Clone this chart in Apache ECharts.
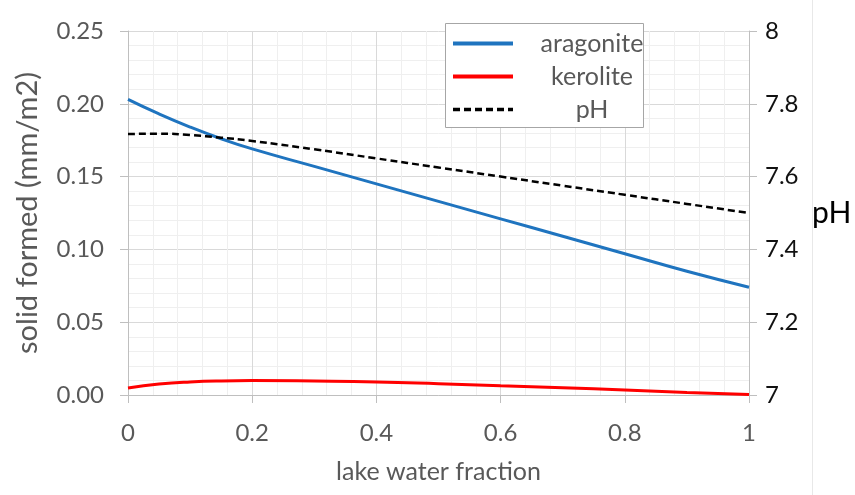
<!DOCTYPE html>
<html><head><meta charset="utf-8">
<script src="https://cdn.jsdelivr.net/npm/echarts@6/dist/echarts.min.js"></script>
<style>html,body{margin:0;padding:0;background:#fff}#c{width:855px;height:495px}</style>
</head><body><div id="c"></div>
<script>
const xTicks = [0, 0.2, 0.4, 0.6, 0.8, 1];
const fraction = [0, 0.05, 0.1, 0.15, 0.2, 0.3, 0.4, 0.5, 0.6, 0.7, 0.8, 0.9, 1];
const aragonite = [0.203, 0.193, 0.184, 0.176, 0.169, 0.157, 0.145, 0.133, 0.121, 0.109, 0.097, 0.085, 0.074];
const kerolite = [0.0048, 0.0075, 0.009, 0.0097, 0.0099, 0.0096, 0.009, 0.0078, 0.0064, 0.005, 0.0034, 0.0018, 0.0003];
const pH = [7.717, 7.718, 7.714, 7.707, 7.698, 7.675, 7.65, 7.625, 7.60, 7.575, 7.55, 7.525, 7.5];

const pair = (ys) => fraction.map((x, i) => [x, ys[i]]);
const FONT = 'Lato, "Open Sans", sans-serif';
const chart = echarts.init(document.getElementById('c'));
chart.setOption({
  animation: false,
  backgroundColor: '#fff',
  textStyle: { fontFamily: FONT },
  grid: { left: 128, right: 106, top: 31, bottom: 100, containLabel: false, outerBoundsMode: 'none' },
  legend: {
    orient: 'vertical', left: 445, top: 23, z: 6,
    padding: [8, 0, 7, 6], itemGap: 8, itemWidth: 60, itemHeight: 22,
    itemStyle: { opacity: 0 },
    formatter: n => '{t|' + n + '}',
    textStyle: { fontSize: 25, color: '#595959', fontFamily: FONT,
      rich: { t: { width: 104, align: 'center', padding: [0, 0, 0, 22], fontSize: 25, color: '#595959', fontFamily: FONT } } },
    data: [
      { name: 'aragonite', lineStyle: { width: 4, color: '#1f74bf' } },
      { name: 'kerolite', lineStyle: { width: 4, color: '#ff0000' } },
      { name: 'pH', lineStyle: { width: 3.5, color: '#000', type: [7, 4] } }
    ]
  },
  xAxis: {
    type: 'value', min: 0, max: 1, interval: 0.2,
    name: 'lake water fraction', nameLocation: 'middle', nameGap: 64,
    nameTextStyle: { fontSize: 25, color: '#595959', fontFamily: FONT },
    axisLine: { show: true, lineStyle: { color: '#bfbfbf', width: 1 } },
    axisTick: { show: true, inside: false, length: 8, lineStyle: { color: '#bfbfbf' } },
    axisLabel: { fontSize: 24, color: '#595959', margin: 26, formatter: v => String(+v.toFixed(1)) },
    splitLine: { show: true, lineStyle: { color: '#d9d9d9', width: 1 } },
    minorTick: { show: false, splitNumber: 5 },
    minorSplitLine: { show: true, lineStyle: { color: '#efefef', width: 1 } }
  },
  yAxis: [{
    type: 'value', min: 0, max: 0.25, interval: 0.05, position: 'left',
    name: 'solid formed (mm/m2)', nameLocation: 'middle', nameGap: 86, nameRotate: 90,
    nameTextStyle: { fontSize: 29, color: '#595959', fontFamily: FONT },
    axisLine: { show: true, lineStyle: { color: '#bfbfbf', width: 1 } },
    axisTick: { show: true, inside: false, length: 8, lineStyle: { color: '#bfbfbf' } },
    axisLabel: { fontSize: 24, color: '#595959', margin: 24, formatter: v => v.toFixed(2) },
    splitLine: { show: true, lineStyle: { color: '#d9d9d9', width: 1 } },
    minorTick: { show: false, splitNumber: 5 },
    minorSplitLine: { show: true, lineStyle: { color: '#efefef', width: 1 } }
  }, {
    type: 'value', min: 7, max: 8, interval: 0.2, position: 'right',
    name: 'pH', nameLocation: 'middle', nameGap: 63, nameRotate: 0,
    nameTextStyle: { fontSize: 30, color: '#000', fontFamily: FONT },
    axisLine: { show: true, lineStyle: { color: '#bfbfbf', width: 1 } },
    axisTick: { show: true, inside: false, length: 8, lineStyle: { color: '#bfbfbf' } },
    axisLabel: { fontSize: 24, color: '#111', margin: 16, formatter: v => String(+v.toFixed(1)) },
    splitLine: { show: false }
  }],
  graphic: [
    { type: 'line', shape: { x1: 812.5, y1: 0, x2: 812.5, y2: 495 }, style: { stroke: '#e8e8e8', lineWidth: 1 }, silent: true },
    { type: 'rect', z: 5, shape: { x: 445.5, y: 23.5, width: 198, height: 104 }, style: { fill: '#fff', stroke: '#a6a6a6', lineWidth: 1 }, silent: true }
  ],
  series: [
    { name: 'aragonite', type: 'line', yAxisIndex: 0, data: pair(aragonite), smooth: true, showSymbol: false, symbol: 'none',
      lineStyle: { color: '#1f74bf', width: 3 }, itemStyle: { color: '#1f74bf' } },
    { name: 'kerolite', type: 'line', yAxisIndex: 0, data: pair(kerolite), smooth: true, showSymbol: false, symbol: 'none',
      lineStyle: { color: '#ff0000', width: 3 }, itemStyle: { color: '#ff0000' } },
    { name: 'pH', type: 'line', yAxisIndex: 1, data: pair(pH), smooth: true, showSymbol: false, symbol: 'none',
      lineStyle: { color: '#000', width: 2.5, type: [7, 4] }, itemStyle: { color: '#000' } }
  ]
});
</script></body></html>
